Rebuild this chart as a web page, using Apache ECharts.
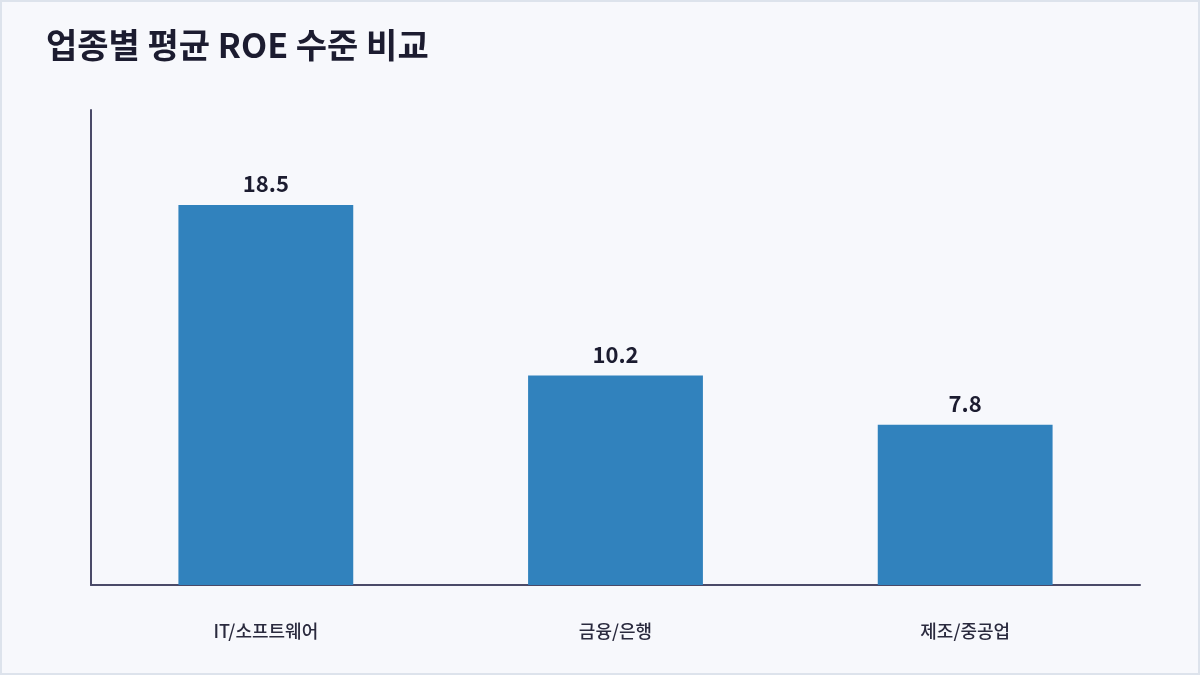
<!DOCTYPE html>
<html>
<head>
<meta charset="utf-8">
<script src="https://cdn.jsdelivr.net/npm/echarts@6/dist/echarts.min.js"></script>
<style>
  html, body { margin: 0; padding: 0; background: #f7f8fc; }
  #wrap { position: relative; width: 1200px; height: 675px; background: #f7f8fc; }
  #chart { position: absolute; left: 0; top: 0; width: 1200px; height: 675px; }
  #frame { position: absolute; left: 0; top: 0; width: 1200px; height: 675px; box-sizing: border-box;
           border: 2px solid #dde3ec; pointer-events: none; }
</style>
</head>
<body>
<div id="wrap"><div id="chart"></div><div id="frame"></div></div>
<script>
// 업종별 평균 ROE
const industries = ["IT/소프트웨어", "금융/은행", "제조/중공업"];
const roe = [18.5, 10.2, 7.8];

const FONT = '"Noto Sans CJK KR", "Noto Sans", sans-serif';
const chart = echarts.init(document.getElementById("chart"), null, { renderer: "canvas" });

chart.setOption({
  backgroundColor: "transparent",
  animation: false,
  title: {
    text: "업종별 평균 ROE 수준 비교",
    left: 41, top: 23,
    textStyle: { fontFamily: FONT, fontSize: 34, fontWeight: "bold", color: "#1c1c30" },
  },
  grid: { left: 91, right: 60, top: 110, bottom: 90 },
  xAxis: {
    type: "category",
    data: industries,
    axisLine: { lineStyle: { color: "#4a4a68", width: 2 } },
    axisTick: { show: false },
    axisLabel: { margin: 37, fontFamily: FONT, fontSize: 18, fontWeight: 500, color: "#2a2a3e" },
  },
  yAxis: {
    type: "value",
    min: 0,
    max: 23.125,
    axisLine: { show: true, lineStyle: { color: "#4a4a68", width: 2 } },
    axisTick: { show: false },
    axisLabel: { show: false },
    splitLine: { show: false },
  },
  series: [{
    type: "bar",
    data: roe,
    barWidth: "50%",
    itemStyle: { color: "#3182bd" },
    label: {
      show: true, position: "top", distance: 10,
      fontFamily: FONT, fontSize: 22, fontWeight: "bold", color: "#1c1c30",
      formatter: (p) => p.value.toFixed(1),
    },
  }],
});
</script>
</body>
</html>
